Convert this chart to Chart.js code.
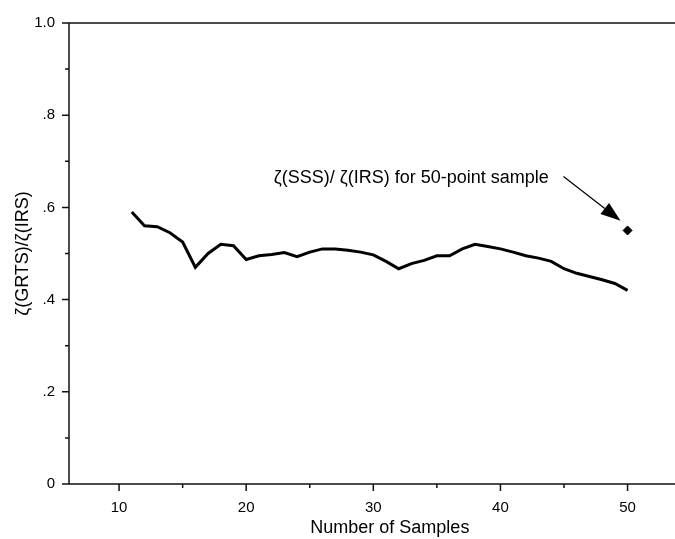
<!DOCTYPE html>
<html>
<head>
<meta charset="utf-8">
<script src="https://cdn.jsdelivr.net/npm/chart.js@4.4.0/dist/chart.umd.min.js"></script>
<style>
  html, body { margin: 0; padding: 0; background: #fff; }
</style>
</head>
<body>
<canvas id="grafica" width="675" height="539"></canvas>
<script>
// sample sizes and the efficiency ratio
var samples = [11,12,13,14,15,16,17,18,19,20,21,22,23,24,25,26,27,28,29,30,
               31,32,33,34,35,36,37,38,39,40,41,42,43,44,45,46,47,48,49,50];
var ratio = [0.590,0.560,0.558,0.545,0.525,0.470,0.500,0.520,0.517,0.487,
             0.495,0.498,0.502,0.493,0.503,0.510,0.510,0.507,0.503,0.497,
             0.483,0.467,0.478,0.485,0.495,0.495,0.510,0.520,0.515,0.510,
             0.503,0.495,0.490,0.483,0.467,0.457,0.450,0.443,0.435,0.420];

// single SSS point
var sssX = [50];
var sssY = [0.55];

var xTickVals = [10, 20, 30, 40, 50];
var xMinorVals = [15, 25, 35, 45];
var yTickVals = [0, 0.2, 0.4, 0.6, 0.8, 1.0];
var yTickLabels = ['0', '.2', '.4', '.6', '.8', '1.0'];
var yMinorVals = [0.1, 0.3, 0.5, 0.7, 0.9];

var xTitulo = 'Number of Samples';
var xTituloCentro = 31.3;   // in x units, the title sits a bit right of the middle
var nota = 'ζ(SSS)/ ζ(IRS) for 50-point sample';
var notaPos = [43.8, 0.663];
var flecha = [[44.96, 0.667], [49.45, 0.571]];

var fuente = 'Liberation Sans, Arial, sans-serif';

var ejes = {
  id: 'ejes',
  afterDraw: function(chart) {
    var c = chart.ctx;
    var xs = chart.scales.x, ys = chart.scales.y;
    var a = chart.chartArea;
    var y0 = ys.getPixelForValue(0);
    var y1 = ys.getPixelForValue(1);
    var x0 = a.left;
    var xr = chart.width;
    c.save();
    c.strokeStyle = '#111';
    c.lineWidth = 1.5;
    c.beginPath();
    c.moveTo(x0 - 7, y0); c.lineTo(xr, y0);
    c.moveTo(x0, y0); c.lineTo(x0, y1);
    c.moveTo(x0, y1); c.lineTo(xr, y1);   // frame top
    xTickVals.forEach(function(v){ var p = xs.getPixelForValue(v); c.moveTo(p, y0); c.lineTo(p, y0 + 7); });
    xMinorVals.forEach(function(v){ var p = xs.getPixelForValue(v); c.moveTo(p, y0); c.lineTo(p, y0 + 4); });
    yTickVals.forEach(function(v){ var p = ys.getPixelForValue(v); c.moveTo(x0, p); c.lineTo(x0 - 7, p); });
    yMinorVals.forEach(function(v){ var p = ys.getPixelForValue(v); c.moveTo(x0, p); c.lineTo(x0 - 4, p); });
    c.stroke();

    c.fillStyle = '#000';
    // x axis title
    c.font = '18px ' + fuente;
    c.textAlign = 'center';
    c.textBaseline = 'middle';
    c.fillText(xTitulo, xs.getPixelForValue(xTituloCentro), 528);

    // annotation text
    c.textAlign = 'right';
    c.fillText(nota, xs.getPixelForValue(notaPos[0]), ys.getPixelForValue(notaPos[1]));

    // arrow
    var ax = xs.getPixelForValue(flecha[0][0]), ay = ys.getPixelForValue(flecha[0][1]);
    var bx = xs.getPixelForValue(flecha[1][0]), by = ys.getPixelForValue(flecha[1][1]);
    var ang = Math.atan2(by - ay, bx - ax);
    var L = 20, W = 7;
    var hx = bx - L * Math.cos(ang), hy = by - L * Math.sin(ang);
    c.lineWidth = 1.2;
    c.strokeStyle = '#000';
    c.beginPath(); c.moveTo(ax, ay); c.lineTo(hx, hy); c.stroke();
    c.beginPath();
    c.moveTo(bx, by);
    c.lineTo(hx + W * Math.sin(ang), hy - W * Math.cos(ang));
    c.lineTo(hx - W * Math.sin(ang), hy + W * Math.cos(ang));
    c.closePath(); c.fill();
    c.restore();
  }
};

var ctx = document.getElementById('grafica');
var grafica = new Chart(ctx, {
  type: 'scatter',
  data: {
    datasets: [
      {
        label: 'GRTS',
        data: samples.map(function(s, i){ return {x: s, y: ratio[i]}; }),
        showLine: true,
        borderColor: '#000',
        borderWidth: 3,
        pointRadius: 0,
        tension: 0
      },
      {
        label: 'SSS',
        data: sssX.map(function(s, i){ return {x: s, y: sssY[i]}; }),
        pointStyle: 'rectRot',
        pointRadius: 4.5,
        backgroundColor: '#000',
        borderColor: '#000'
      }
    ]
  },
  options: {
    responsive: false,
    animation: false,
    layout: { padding: { top: 18, left: 0, right: 0, bottom: 0 } },
    plugins: { legend: { display: false }, tooltip: { enabled: false } },
    scales: {
      x: {
        type: 'linear',
        min: 6.06,
        max: 53.3,
        afterFit: function(s){ s.height = 55; },
        afterBuildTicks: function(s){ s.ticks = xTickVals.map(function(v){ return {value: v}; }); },
        grid: { display: false, drawTicks: false },
        border: { display: false },
        ticks: { color: '#000', font: { family: fuente, size: 15 }, padding: 15, maxRotation: 0 },
        title: { display: false }
      },
      y: {
        type: 'linear',
        min: 0,
        max: 1,
        afterFit: function(s){ s.width = 69; },
        afterBuildTicks: function(s){ s.ticks = yTickVals.map(function(v){ return {value: v}; }); },
        grid: { display: false, drawTicks: false },
        border: { display: false },
        ticks: { color: '#000', font: { family: fuente, size: 15 }, padding: 14,
                 callback: function(v, i){ return yTickLabels[i]; } },
        title: { display: true, text: 'ζ(GRTS)/ζ(IRS)', color: '#000',
                 font: { family: fuente, size: 18 }, padding: { top: 12, bottom: 0 } }
      }
    }
  },
  plugins: [ejes]
});
</script>
</body>
</html>
